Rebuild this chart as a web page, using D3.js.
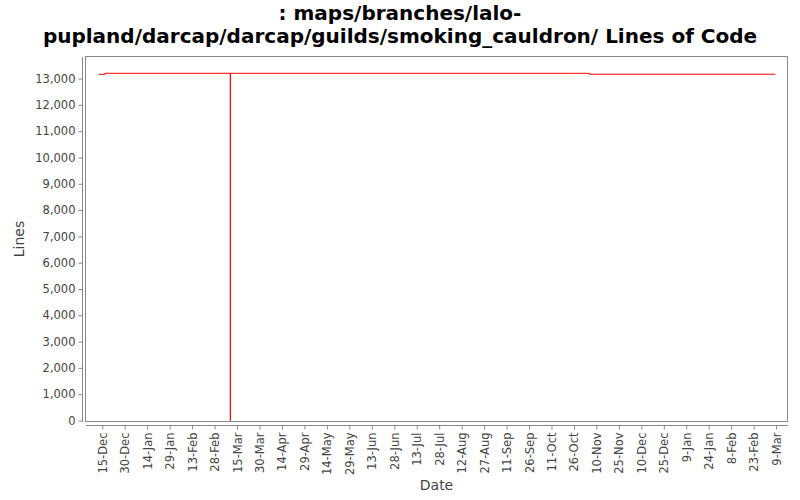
<!DOCTYPE html>
<html>
<head>
<meta charset="utf-8">
<script src="https://cdn.jsdelivr.net/npm/d3@7"></script>
<style>
  body { margin: 0; background: #fff; }
  svg { display: block; }
</style>
</head>
<body>
<svg id="chart" width="800" height="500"></svg>
<script>
const titleLines = [': maps/branches/lalo-', 'pupland/darcap/darcap/guilds/smoking_cauldron/ Lines of Code'];
const dates = [
    new Date(2006, 11, 12, 18),
    new Date(2006, 11, 16, 18),
    new Date(2007, 2, 10, 12),
    new Date(2007, 2, 10, 14),
    new Date(2007, 10, 5, 8),
    new Date(2008, 2, 8, 12)
];
const lines = [13160, 13200, 0, 13200, 13165, 13165];
const yTicks = [0, 1000, 2000, 3000, 4000, 5000, 6000, 7000, 8000, 9000, 10000, 11000, 12000, 13000];
const firstTick = new Date(2006, 11, 15);
const tickCount = 31;
const tickStepDays = 15;

const svg = d3.select('#chart');
const plot = { left: 86, right: 787, top: 57, bottom: 421 };

const x = d3.scaleTime()
    .domain([new Date(2006, 11, 4, 3), new Date(2008, 2, 16, 7)])
    .range([plot.left, plot.right]);
const y = d3.scaleLinear()
    .domain([0, 13820])
    .range([plot.bottom - 0.5, plot.top]);

// title
svg.append('g').selectAll('text').data(titleLines).join('text')
    .attr('x', 400).attr('y', (d, i) => 19.5 + i * 23)
    .attr('text-anchor', 'middle')
    .attr('font-family', '"DejaVu Sans", sans-serif')
    .attr('font-weight', 'bold')
    .attr('font-size', '20px')
    .attr('fill', '#000')
    .text(d => d);

// plot frame
svg.append('rect')
    .attr('x', plot.left - 0.5).attr('y', plot.top - 0.5)
    .attr('width', plot.right - plot.left + 1).attr('height', plot.bottom - plot.top + 1)
    .attr('fill', '#fff').attr('stroke', '#888').attr('stroke-width', 1);

// y axis
const yAxis = d3.axisLeft(y).tickValues(yTicks).tickSize(4).tickPadding(3)
    .tickFormat(d3.format(','));
const gy = svg.append('g').attr('transform', 'translate(82.5,0)').call(yAxis);

// x axis
const xTicks = d3.range(tickCount).map(i => d3.timeDay.offset(firstTick, i * tickStepDays));
const xAxis = d3.axisBottom(x).tickValues(xTicks).tickSize(4).tickPadding(3)
    .tickFormat(d3.timeFormat('%-d-%b'));
const gx = svg.append('g').attr('transform', 'translate(0,425.5)').call(xAxis);
gx.selectAll('.tick text')
    .attr('transform', 'rotate(-90)')
    .attr('text-anchor', 'end')
    .attr('x', -7).attr('y', 0).attr('dy', '0.35em');

[gx, gy].forEach(g => {
    g.select('.domain').attr('stroke', '#888');
    g.selectAll('.tick line').attr('stroke', '#888');
    g.selectAll('.tick text')
        .attr('fill', '#444')
        .attr('font-family', '"DejaVu Sans", sans-serif')
        .attr('font-size', '11.5px');
});
gx.select('.domain').attr('d', `M${plot.left},0H${plot.right + 1}`);
gy.select('.domain').attr('d', `M0,${plot.top}V${plot.bottom + 1}`);

// axis labels
svg.append('text')
    .attr('transform', `translate(24,${(plot.top + plot.bottom) / 2}) rotate(-90)`)
    .attr('text-anchor', 'middle')
    .attr('font-family', '"DejaVu Sans", sans-serif')
    .attr('font-size', '14px').attr('fill', '#444')
    .text('Lines');
svg.append('text')
    .attr('x', (plot.left + plot.right) / 2).attr('y', 490)
    .attr('text-anchor', 'middle')
    .attr('font-family', '"DejaVu Sans", sans-serif')
    .attr('font-size', '14px').attr('fill', '#444')
    .text('Date');

// series
const line = d3.line()
    .x((d, i) => x(dates[i]))
    .y(d => y(d))
    .curve(d3.curveStepAfter);
svg.append('path')
    .datum(lines)
    .attr('d', line)
    .attr('fill', 'none')
    .attr('stroke', '#ff0000')
    .attr('stroke-width', 1);
</script>
</body>
</html>
